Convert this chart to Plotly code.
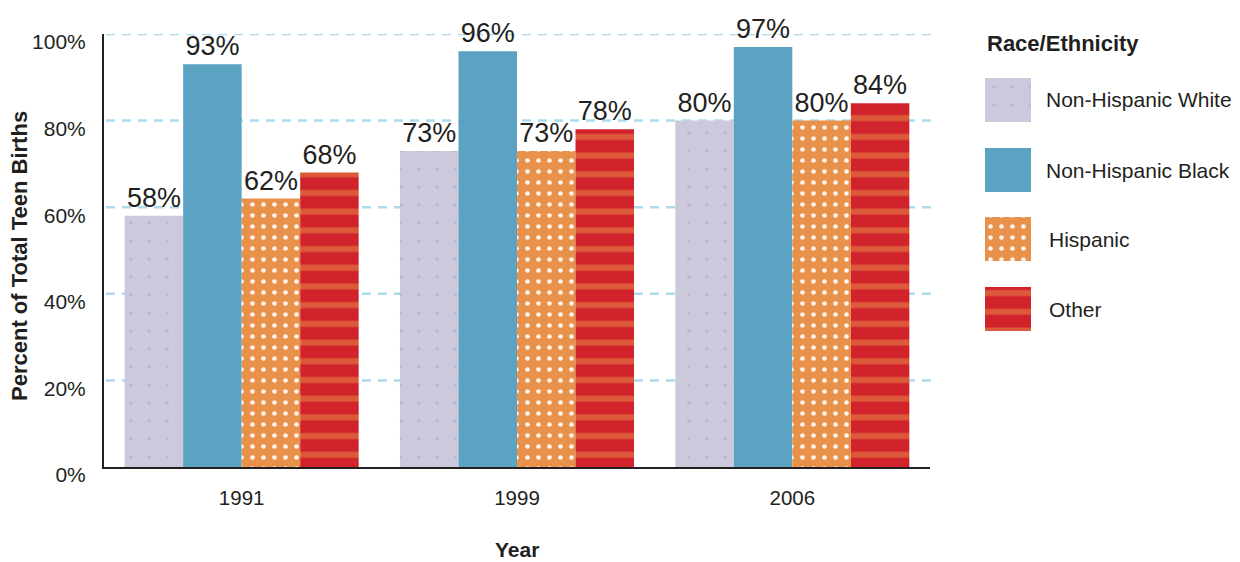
import plotly.graph_objects as go

# ---------------- data ----------------
years = ["1991", "1999", "2006"]
series_names = ["Non-Hispanic White", "Non-Hispanic Black", "Hispanic", "Other"]
white_vals = [58, 73, 80]
black_vals = [93, 96, 97]
hispanic_vals = [62, 73, 80]
other_vals = [68, 78, 84]
y_tick_vals = [0, 20, 40, 60, 80, 100]
y_tick_text = ["0%", "20%", "40%", "60%", "80%", "100%"]
legend_title = "Race/Ethnicity"
x_title = "Year"
y_title = "Percent of Total Teen Births"

# ---------------- layout helpers ----------------
# The page body has an 8px margin, so figure coordinates = screen coordinates - 8.
OFF = 8
W, H = 1240, 562
ML, MR, MT = 104 - OFF, 0, 34 - OFF
MB = H - (467 - OFF)
PW, PH = W - ML - MR, H - MT - MB
FONT = "Liberation Sans, Arial, Helvetica, sans-serif"
TXT = "#231f20"


def fx(px):
    return (px - OFF - ML) / PW


def fy(py):
    return (H - MB - (py - OFF)) / PH


styles = [
    dict(color="#cbc9db", pattern=dict(shape=".", fgcolor="#aeacc3", size=18, solidity=0.04)),
    dict(color="#5ba2c3"),
    dict(color="#e8914a", pattern=dict(shape=".", fgcolor="#ffffff", fgopacity=0.9, size=11, solidity=0.14)),
    dict(color="#d1232b", pattern=dict(shape="-", fgcolor="#e8914a", size=18.7, solidity=0.32)),
]
values = [white_vals, black_vals, hispanic_vals, other_vals]

fig = go.Figure()
for name, vals, st in zip(series_names, values, styles):
    fig.add_trace(go.Bar(
        x=years, y=vals, name=name,
        marker=dict(line=dict(width=0), **st),
        text=[f"{v}%" for v in vals], textposition="outside",
        textfont=dict(size=27, color=TXT, family=FONT),
        constraintext="none", cliponaxis=False, showlegend=False,
        xaxis="x", yaxis="y",
    ))

# custom legend swatches (separate hidden axes)
sw_top = [78, 148, 217, 287]
sw_h = 44
lab_x = [1044, 1044, 1047, 1047]
for i, (name, st) in enumerate(zip(series_names, styles)):
    fig.add_trace(go.Bar(
        x=[0], y=[sw_h], base=[sw_top[i]], width=[1], offset=-0.5,
        marker=dict(line=dict(width=0), **st),
        xaxis="x2", yaxis="y2", showlegend=False, hoverinfo="skip",
    ))

annotations = [
    dict(text=f"<b>{legend_title}</b>", x=fx(985), y=fy(43), xref="paper", yref="paper",
         xanchor="left", yanchor="middle", showarrow=False, font=dict(size=22, color=TXT, family=FONT)),
    dict(text=f"<b>{x_title}</b>", x=fx(517), y=fy(549), xref="paper", yref="paper",
         xanchor="center", yanchor="middle", showarrow=False, font=dict(size=21, color=TXT, family=FONT)),
    dict(text=f"<b>{y_title}</b>", x=fx(19), y=fy(256), xref="paper", yref="paper", textangle=-90,
         xanchor="center", yanchor="middle", showarrow=False, font=dict(size=22, color=TXT, family=FONT)),
]
for i, name in enumerate(series_names):
    annotations.append(dict(text=name, x=fx(lab_x[i]), y=fy(sw_top[i] + sw_h / 2), xref="paper", yref="paper",
                            xanchor="left", yanchor="middle", showarrow=False,
                            font=dict(size=21, color=TXT, family=FONT)))

shapes = []
for v in y_tick_vals[1:]:
    shapes.append(dict(type="line", xref="paper", yref="y", x0=fx(106), x1=fx(931), y0=v, y1=v,
                       line=dict(color="#acdaee", width=2.5, dash="9px,7px"), layer="below"))

fig.update_layout(
    width=W, height=H,
    margin=dict(l=ML, r=MR, t=MT, b=MB, pad=0),
    paper_bgcolor="white", plot_bgcolor="white",
    barmode="group", bargap=0.15, bargroupgap=0,
    font=dict(family=FONT, color=TXT, size=20),
    xaxis=dict(domain=[0, fx(930)], type="category", range=[-0.5, 2.5],
               showline=True, linecolor="#231f20", linewidth=2, ticks="", showgrid=False,
               tickfont=dict(size=20.5, color=TXT), ticklabelstandoff=11, zeroline=False),
    yaxis=dict(domain=[0, 1], range=[0, 100], tickvals=y_tick_vals, ticktext=y_tick_text,
               showline=True, linecolor="#231f20", linewidth=2, ticks="", showgrid=False, zeroline=False,
               tickfont=dict(size=21, color=TXT), ticklabelshift=8, ticklabelstandoff=12),
    xaxis2=dict(domain=[fx(985), fx(1031)], range=[-0.5, 0.5], visible=False, anchor="y2", fixedrange=True),
    yaxis2=dict(domain=[fy(331), fy(78)], range=[331, 78], visible=False, anchor="x2", fixedrange=True),
    annotations=annotations,
    shapes=shapes,
    hovermode=False,
)

fig.write_html("out.html")
